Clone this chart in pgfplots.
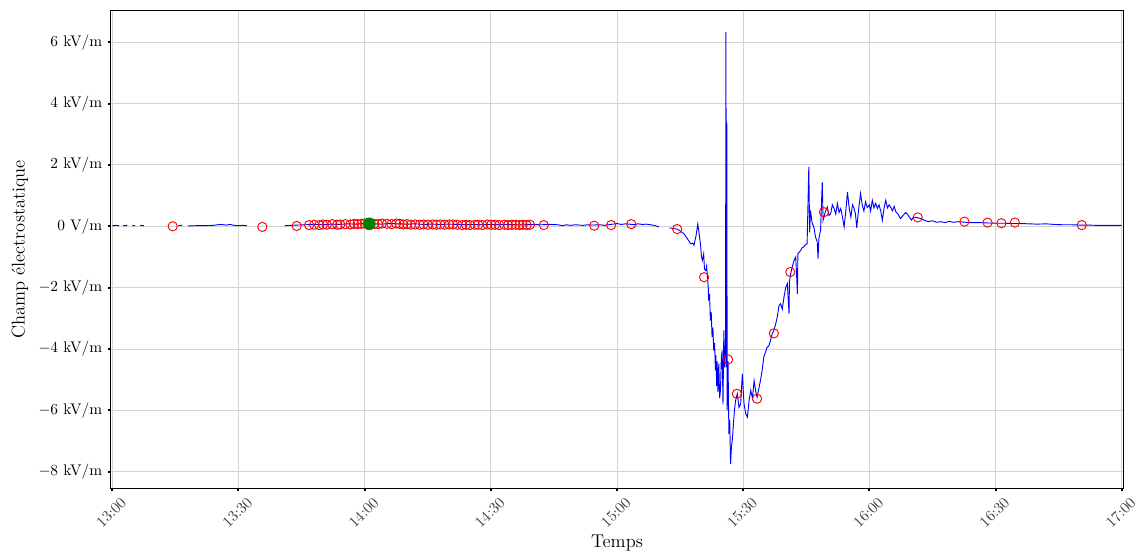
\documentclass[border=0pt]{standalone}
\usepackage{pgfplots}
\pgfplotsset{compat=1.18}
\usepackage{pgfplotstable}
\definecolor{gridc}{RGB}{211,211,211}
\definecolor{dgreen}{RGB}{0,128,0}

\pgfplotstableread{
x y
0.0 0.02
0.8 0.03
1.6 0.02
2.0 nan
2.6 0.02
3.6 0.03
4.0 nan
4.8 0.02
5.4 0.02
6.0 nan
6.6 0.03
7.5 0.02
10 nan
15.7 0.02
16.6 0.03
17.2 nan
18.0 0.01
20 0.02
22 0.02
24 0.03
25 0.05
26 0.06
27 0.04
28 0.06
29 0.03
30 0.02
31 0.03
32 0.02
36 nan
41.0 0.02
42.5 0.03
44 0.04
46 0.05
48 0.06
50 0.05
52 0.07
54 0.06
56 0.08
58 0.07
60 0.09
62 0.08
64 0.07
66 0.09
68 0.08
70 0.07
72 0.08
74 0.06
76 0.07
78 0.06
80 0.07
82 0.06
84 0.05
86 0.06
88 0.05
90 0.06
92 0.05
94 0.06
96 0.05
98 0.05
100 0.06
102 0.05
104 0.06
106 0.05
107 0.02
108 0.05
109 0.03
110 0.05
111 0.04
112 0.03
113 0.05
114 0.04
116 0.05
117 0.03
118 0.05
119 0.07
120 0.09
121 0.06
122 0.08
123 0.07
124 0.05
125 0.08
126 0.06
127 0.07
128 0.05
129 0.02
130 -0.02
130.6 nan
132.5 -0.05
133.5 -0.08
134.3 -0.09
135 -0.15
135.9 -0.24
136.7 -0.40
137.5 -0.57
138.0 -0.55
138.3 -0.62
138.8 -0.3
139.2 0.07
139.5 -0.2
139.9 -0.67
140.1 -1.0
140.3 -1.11
140.6 -0.9
140.8 -1.4
141.1 -1.44
141.3 -1.3
141.5 -1.65
141.7 -2.0
141.8 -2.42
142.0 -2.2
142.2 -3.07
142.4 -2.8
142.6 -3.61
142.8 -3.3
143.0 -4.05
143.2 -3.8
143.4 -4.7
143.5 -4.2
143.7 -5.2
143.8 -4.4
144.0 -5.4
144.2 -4.48
144.4 -5.6
144.6 -5.35
144.8 -4.3
145.0 -4.05
145.2 -5.8
145.4 -3.39
145.6 -4.6
145.8 -3.83
145.9 6.33
146.0 -4.6
146.1 3.4
146.2 -6.0
146.4 -4.4
146.6 -6.77
146.8 -6.3
147.0 -7.75
147.2 -7.2
147.4 -6.98
147.6 -6.6
147.8 -6.22
148.0 -5.9
148.2 -5.68
148.6 -5.46
149.0 -5.9
149.4 -5.79
149.8 -4.81
150.0 -5.3
150.2 -5.79
150.6 -6.11
151.0 -6.22
151.4 -5.68
151.8 -5.35
152.2 -5.6
152.6 -5.03
153.0 -5.4
153.3 -5.57
153.7 -5.3
154.1 -5.03
154.5 -4.7
154.9 -4.26
155.3 -4.1
155.7 -3.94
156.1 -3.9
156.5 -3.72
156.9 -3.5
157.3 -3.39
157.7 -3.2
158.1 -2.96
158.5 -2.6
158.9 -2.52
159.3 -2.7
159.7 -2.31
160.1 -2.0
160.5 -1.87
160.9 -2.85
161.0 -1.8
161.3 -1.54
161.7 -1.3
162.1 -1.11
162.5 -1.0
162.9 -2.2
163.0 -0.89
163.3 -0.85
163.7 -0.78
164.0 -0.7
164.4 -0.67
164.8 -0.6
165.2 -0.57
165.6 1.94
165.8 -0.2
166.0 0.52
166.4 0.1
166.8 -0.02
167.2 -0.35
167.6 -0.5
167.8 -1.05
168.0 -0.4
168.4 -0.13
168.8 1.45
169.0 0.2
169.2 0.3
169.6 0.5
170.0 0.63
170.4 0.35
170.8 0.41
171.2 0.7
171.6 0.58
172.0 0.4
172.4 0.74
172.8 0.45
173.2 0.58
173.6 0.3
174.0 -0.02
174.4 0.5
174.8 1.12
175.2 0.6
175.6 0.3
176.0 0.7
176.3 0.61
176.7 0.4
177.0 -0.05
177.4 0.5
177.9 1.07
178.3 0.7
178.7 0.5
179.1 0.8
179.5 0.61
180.0 0.7
180.3 0.5
180.7 0.85
181.1 0.6
181.5 0.75
181.9 0.58
182.3 0.7
182.7 0.5
183.1 0.2
183.5 0.6
183.9 0.85
184.3 0.6
184.7 0.7
185.1 0.61
185.5 0.5
185.9 0.65
186.3 0.47
186.8 0.4
187.4 0.25
188 0.35
188.6 0.45
189 0.4
189.5 0.3
190 0.2
190.5 0.3
191.5 0.28
192.3 0.25
193 0.2
194 0.15
195 0.18
196 0.13
197 0.15
198 0.12
199 0.16
200 0.13
201 0.15
202 0.14
204 0.12
206 0.12
208 0.11
210 0.1
212 0.1
214 0.09
216 0.09
218 0.08
220 0.07
222 0.08
224 0.06
226 0.05
228 0.05
230 0.04
232 0.04
234 0.03
236 0.03
238 0.03
240 0.03
}\fieldline

\pgfplotstableread{
x y
14.36 0.00
35.67 -0.02
43.84 0.01
46.8 0.04
48.0 0.05
49.2 0.04
50.1 0.06
51.0 0.05
52.3 0.07
53.5 0.05
54.2 0.06
55.4 0.07
56.6 0.06
57.5 0.08
58.3 0.07
59.2 0.08
60.0 0.09
62.3 0.08
63.2 0.07
64.1 0.09
65.3 0.08
66.4 0.07
67.5 0.09
68.3 0.08
69.2 0.06
70.1 0.07
71.0 0.05
72.0 0.06
73.1 0.05
74.0 0.06
75.0 0.05
76.2 0.06
77.1 0.05
78.0 0.06
79.0 0.05
80.1 0.06
81.0 0.06
82.0 0.05
83.2 0.04
84.1 0.05
85.0 0.04
86.2 0.05
87.0 0.05
88.0 0.04
89.2 0.06
90.1 0.05
91.0 0.05
92.0 0.04
93.2 0.05
94.1 0.04
95.0 0.05
95.9 0.05
96.8 0.04
97.6 0.05
98.5 0.04
99.3 0.05
102.6 0.04
114.6 0.02
118.6 0.04
123.4 0.07
134.3 -0.09
140.7 -1.66
146.4 -4.34
148.5 -5.46
153.3 -5.62
157.3 -3.49
161.2 -1.49
169.2 0.46
191.5 0.29
202.6 0.15
208.1 0.12
211.4 0.10
214.6 0.12
230.5 0.04
}\redpts

\begin{document}
\begin{tikzpicture}
\begin{axis}[
  scale only axis,
  width=658.2pt, height=310.7pt,
  xmin=-0.38, xmax=240.38,
  ymin=-8.54, ymax=7.04,
  axis line style={black, line width=0.8pt},
  xtick={0,30,60,90,120,150,180,210,240},
  xticklabels={13:00,13:30,14:00,14:30,15:00,15:30,16:00,16:30,17:00},
  ytick={-8,-6,-4,-2,0,2,4,6},
  yticklabels={$-8$ kV/m,$-6$ kV/m,$-4$ kV/m,$-2$ kV/m,0 V/m,2 kV/m,4 kV/m,6 kV/m},
  xtick pos=bottom, ytick pos=left,
  tick align=outside,
  major tick length=2pt,
  tick style={line width=1.3pt, black},
  grid=major,
  major grid style={gridc, line width=0.65pt},
  xticklabel style={font=\normalsize, rotate=45, anchor=center, inner sep=0pt, xshift=-10.2pt, yshift=-9.25pt, text=black!75},
  yticklabel style={font=\normalsize},
  xlabel={Temps},
  ylabel={Champ électrostatique},
  xlabel style={font=\large, at={(axis description cs:0.5,0)}, anchor=center, yshift=-35.6pt},
  ylabel style={font=\large, at={(axis description cs:0,0.5)}, anchor=center, yshift=59pt},
  unbounded coords=jump,
  clip=true,
]
\addplot[blue, line width=0.6pt, no marks] table[x=x,y=y] {\fieldline};
\addplot[only marks, mark=o, mark size=3pt, mark options={draw=red, fill=white, line width=0.6pt}] table[x=x,y=y] {\redpts};
\addplot[only marks, mark=*, mark size=3.9pt, mark options={draw=dgreen, fill=dgreen}] coordinates {(61.1,0.08)};
\end{axis}
\path (current axis.south west) ++(-71.96pt,-42.7pt) coordinate (bbsw);
\path (current axis.north east) ++(8.9pt,6.7pt) coordinate (bbne);
\pgfresetboundingbox
\path[use as bounding box] (bbsw) rectangle (bbne);
\end{tikzpicture}
\end{document}
